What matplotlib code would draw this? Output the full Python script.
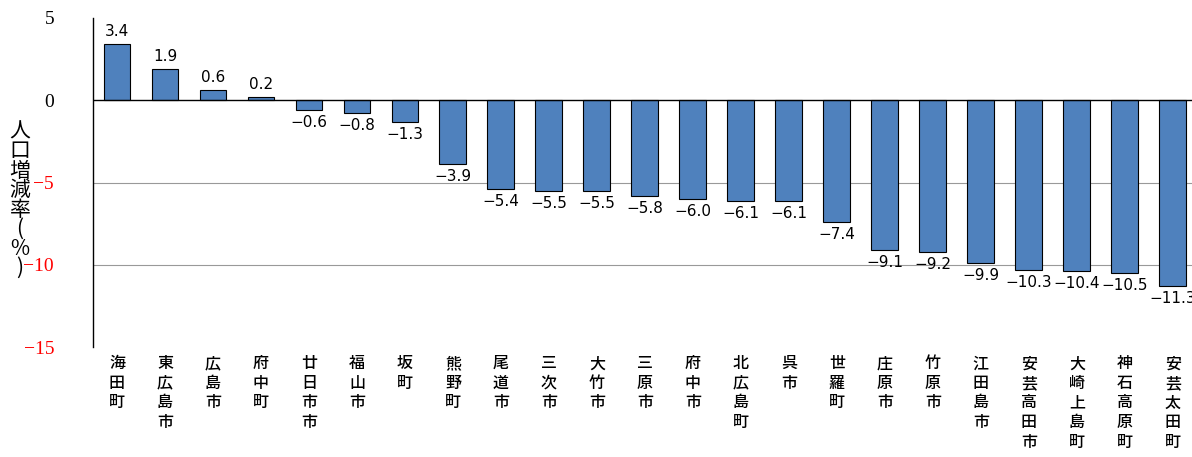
import matplotlib
matplotlib.use("Agg")
import matplotlib.pyplot as plt

categories = ["海田町","東広島市","広島市","府中町","廿日市市","福山市","坂町","熊野町","尾道市","三次市",
              "大竹市","三原市","府中市","北広島町","呉市","世羅町","庄原市","竹原市","江田島市","安芸高田市",
              "大崎上島町","神石高原町","安芸太田町"]
values = [3.4,1.9,0.6,0.2,-0.6,-0.8,-1.3,-3.9,-5.4,-5.5,-5.5,-5.8,-6.0,-6.1,-6.1,-7.4,-9.1,-9.2,-9.9,-10.3,-10.4,-10.5,-11.3]
yticks = [5,0,-5,-10,-15]

plt.rcParams['font.family'] = ['Noto Sans CJK JP', 'DejaVu Sans']
fig = plt.figure(figsize=(11.92,4.57), dpi=100)
ax = fig.add_axes([93/1192, 1-347/457, 1-93/1192, (347-18)/457])
x = list(range(len(values)))
ax.bar(x, values, width=0.56, color='#4f81bd', edgecolor='black', linewidth=0.8, zorder=3)
ax.set_xlim(-0.5, 22.4)
ax.set_ylim(-15, 5)
for g in [-5,-10]:
    ax.axhline(g, color='#999999', linewidth=0.8, zorder=1)
ax.axhline(0, color='black', linewidth=1, zorder=4)
ax.set_yticks(yticks)
ax.set_yticklabels([str(t).replace('-', '−') for t in yticks], fontfamily='Liberation Serif', fontsize=14)
for t, v in zip(ax.get_yticklabels(), yticks):
    t.set_color('red' if v < 0 else 'black')
ax.tick_params(axis='y', length=0, pad=28)
ax.set_xticks([])
for s in ['top','right','bottom']:
    ax.spines[s].set_visible(False)
ax.spines['left'].set_linewidth(1)
for xi, v in zip(x, values):
    lab = f"{v:.1f}".replace('-', '−')
    if v >= 0:
        ax.text(xi, v+0.3, lab, ha='center', va='bottom', fontsize=11, family='DejaVu Sans', clip_on=True)
    else:
        ax.text(xi, v-0.3, lab, ha='center', va='top', fontsize=11, family='DejaVu Sans', clip_on=True)
    ax.text(xi, -15.5, "\n".join(categories[xi]), ha='center', va='top',
            fontsize=11.5, fontweight='medium', linespacing=1.2, clip_on=False)
fig.text(20/1192, 1-200/457, "\n".join("人口増減率(%)"), ha='center', va='center', fontsize=15, linespacing=0.85)
fig.savefig("out.png", dpi=100)
